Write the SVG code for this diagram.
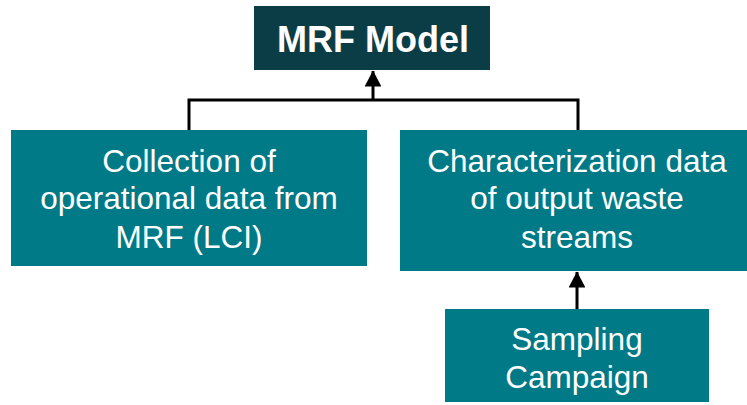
<svg xmlns="http://www.w3.org/2000/svg" width="747" height="405" viewBox="0 0 747 405">
<defs>
<style>
.box{fill:#007A87}
.top{fill:#0A3D45}
.t{font-family:"Liberation Sans",Arial,sans-serif;fill:#fff;text-anchor:middle;font-size:31.5px}
.tb{font-family:"Liberation Sans",Arial,sans-serif;fill:#fff;text-anchor:middle;font-size:36px;font-weight:bold}
.ln{stroke:#000;stroke-width:3;fill:none}
</style>
<marker id="ah" markerWidth="5.4" markerHeight="5.6" refX="5.2" refY="2.8" orient="auto" markerUnits="strokeWidth">
<path d="M0,0 L5.4,2.8 L0,5.6 Z" fill="#000"/>
</marker>
</defs>
<rect width="747" height="405" fill="#fff"/>
<g id="connectors">
<polyline class="ln" points="189,130 189,100 578,100 578,130"/>
<line class="ln" x1="373" y1="100" x2="373" y2="71" marker-end="url(#ah)"/>
<line class="ln" x1="577" y1="309" x2="577" y2="272" marker-end="url(#ah)"/>
</g>
<g id="mrf-model">
<rect class="top" x="254" y="6" width="236" height="64"/>
<text class="tb" x="373" y="52">MRF Model</text>
</g>
<g id="collection">
<rect class="box" x="11" y="130" width="356" height="136"/>
<text class="t" x="189" y="172">Collection of</text>
<text class="t" x="189" y="209">operational data from</text>
<text class="t" x="189" y="248">MRF (LCI)</text>
</g>
<g id="characterization">
<rect class="box" x="400" y="130" width="347" height="141"/>
<text class="t" x="577" y="172">Characterization data</text>
<text class="t" x="577" y="209">of output waste</text>
<text class="t" x="577" y="248">streams</text>
</g>
<g id="sampling">
<rect class="box" x="445" y="309" width="264" height="93"/>
<text class="t" x="577" y="350">Sampling</text>
<text class="t" x="577" y="388">Campaign</text>
</g>
</svg>
